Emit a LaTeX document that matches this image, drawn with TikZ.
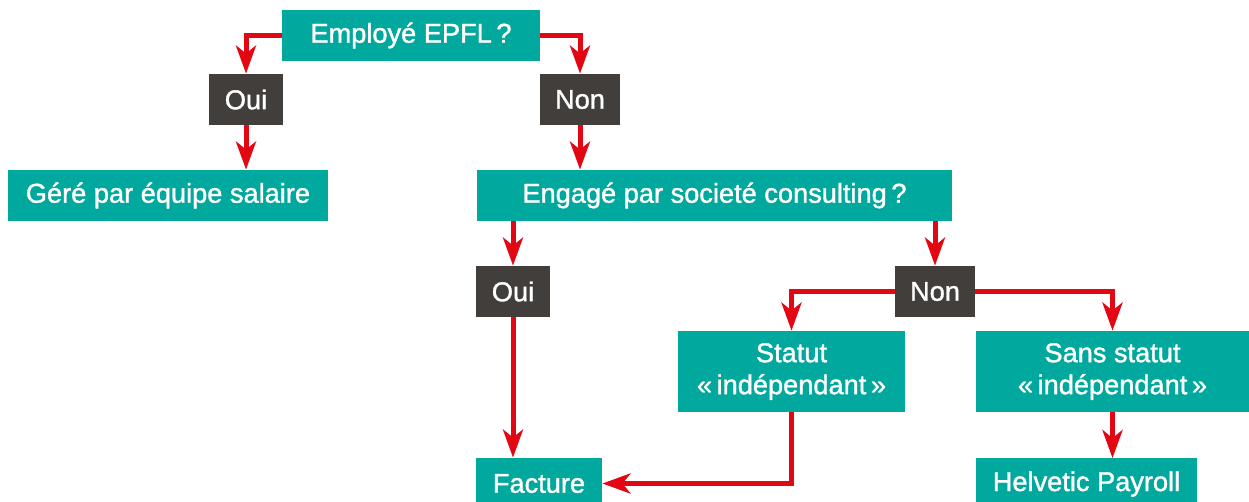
\documentclass[tikz,border=0pt]{standalone}
\usepackage{fontspec}
\setmainfont{Liberation Sans}
\newfontfamily\medfont{Liberation Sans}[BoldFont={Liberation Sans}, BoldFeatures={FakeBold=1.3}]
\usetikzlibrary{arrows.meta}
\definecolor{epfteal}{HTML}{00A89D}
\definecolor{epfdark}{HTML}{423E3B}
\definecolor{epfred}{HTML}{E30613}
\begin{document}
\begin{tikzpicture}[x=0.5pt,y=-0.5pt,
  box/.style={fill=epfteal, text=white, font=\medfont\bfseries\fontsize{13.6}{16}\selectfont, inner sep=0pt, align=center},
  dbox/.style={box, fill=epfdark},
  arr/.style={draw=epfred, line width=2.5pt, -{Stealth[length=14pt,width=10pt,inset=4pt]}}]
\path[use as bounding box, clip] (0,0) rectangle (1249,502);
% nodes
\node[box, minimum width=129pt, minimum height=25.5pt] (emp) at (411,35.5) {Employé EPFL\,?};
\node[dbox, minimum width=37pt, minimum height=25.5pt] (oui1) at (246,99.5) {Oui};
\node[dbox, minimum width=40pt, minimum height=25.5pt] (non1) at (580,99.5) {Non};
\node[box, minimum width=160pt, minimum height=25.5pt] (gere) at (168,195.5) {Géré par équipe salaire};
\node[box, minimum width=237.5pt, minimum height=25.5pt] (eng) at (714.5,195.5) {Engagé par societé consulting\,?};
\node[dbox, minimum width=37pt, minimum height=25.5pt] (oui2) at (513,291.5) {Oui};
\node[dbox, minimum width=40pt, minimum height=25.5pt] (non2) at (935,291.5) {Non};
\node[box, minimum width=113.5pt, minimum height=40.5pt] (statut) at (791.5,371.5) {Statut\\«\,indépendant\,»};
\node[box, minimum width=136.5pt, minimum height=40.5pt] (sans) at (1112.5,371.5) {Sans statut\\«\,indépendant\,»};
\node[box, minimum width=63pt, minimum height=25.5pt] (fact) at (539,483.5) {Facture};
\node[box, minimum width=110.5pt, minimum height=25.5pt] (helv) at (1086.5,484) {Helvetic Payroll};
% connectors
\draw[arr] (emp.west) -| (oui1.north);
\draw[arr] (emp.east) -| (non1.north);
\draw[arr] (oui1.south) -- (oui1.south |- gere.north);
\draw[arr] (non1.south) -- (non1.south |- eng.north);
\draw[arr] (oui2.north |- eng.south) -- (oui2.north);
\draw[arr] (non2.north |- eng.south) -- (non2.north);
\draw[arr] (non2.west) -| (statut.north);
\draw[arr] (non2.east) -| (sans.north);
\draw[arr] (oui2.south) -- (oui2.south |- fact.north);
\draw[arr] (statut.south) |- (fact.east);
\draw[arr] (sans.south) -- (sans.south |- helv.north);
\end{tikzpicture}
\end{document}
